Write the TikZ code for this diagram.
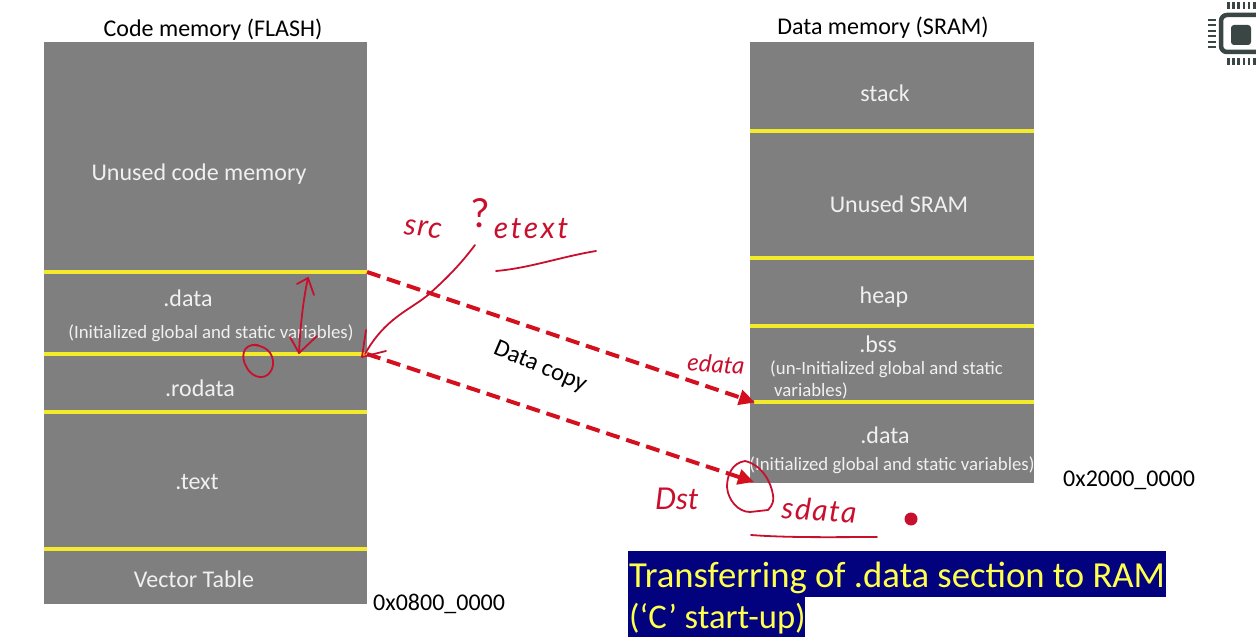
\documentclass[tikz,border=0pt]{standalone}
\usepackage{fontspec}
\setmainfont{Carlito}
\newfontfamily\handfont{Lato}
\usetikzlibrary{arrows.meta}
\definecolor{boxgray}{HTML}{7F7F7F}
\definecolor{lineyellow}{HTML}{F2EA2A}
\definecolor{inkred}{HTML}{C8102E}
\definecolor{arrowred}{HTML}{D40F1E}
\definecolor{navy}{HTML}{02027E}
\definecolor{bannertext}{HTML}{FFFF4D}
\definecolor{chipdark}{HTML}{3A4644}
\tikzset{
  memorybox/.style={fill=boxgray,draw=none,inner sep=0pt,outer sep=0pt},
  divider/.style={draw=lineyellow,line width=3.4pt},
  seclabel/.style={text=white!94!black,font=\fontsize{24}{26}\selectfont,inner sep=0pt,align=center},
  smalllabel/.style={text=white!94!black,font=\fontsize{18.8}{22}\selectfont,inner sep=0pt},
  blacklabel/.style={text=black,font=\fontsize{24}{26}\selectfont,inner sep=0pt},
  copyarrow/.style={draw=arrowred,line width=4pt,dash pattern=on 14pt off 7pt,-{Triangle[length=16pt,width=15pt,fill=arrowred]}},
  ink/.style={draw=inkred,line width=1.8pt,line cap=round,line join=round},
  handtext/.style={text=inkred,inner sep=0pt,font=\handfont\itshape\fontsize{30}{32}\selectfont},
  bannerlabel/.style={text=bannertext,font=\fontsize{36.7}{40}\selectfont,inner sep=0pt,anchor=base west},
  chip/.style={fill=chipdark,draw=none}
}
\begin{document}
\begin{tikzpicture}[x=1pt,y=-1pt]
\useasboundingbox (0,0) rectangle (1256,644);
% memory blocks
\node[memorybox,minimum width=323pt,minimum height=562pt] (flash) at (205.5,323) {};
\node[memorybox,minimum width=284pt,minimum height=441pt] (sram) at (892,262.5) {};
% dividers in FLASH
\foreach \n/\y in {fa/272,fb/354,fc/412,fd/549}{
  \coordinate (\n l) at (44,\y); \coordinate (\n r) at (367,\y);
  \draw[divider] (\n l) -- (\n r);
}
% dividers in SRAM
\foreach \n/\y/\xs in {sa/131/750,sb/258/750,sc/326/750,sd/402/754}{
  \coordinate (\n l) at (\xs,\y); \coordinate (\n r) at (1034,\y);
  \draw[divider] (\n l) -- (\n r);
}
% titles
\node[blacklabel] (flashtitle) at (213,30) {Code memory (FLASH)};
\node[blacklabel] (sramtitle) at (883,28) {Data memory (SRAM)};
% flash labels
\node[seclabel] (unusedcode) at (199,174) {Unused code memory};
\node[seclabel] (fdata) at (188,298) {.data};
\node[smalllabel] (fdatasub) at (211,333) {(Initialized global and static variables)};
\node[seclabel] (rodata) at (200,388) {.rodata};
\node[seclabel] (ftext) at (197,482) {.text};
\node[seclabel] (vector) at (194,579) {Vector Table};
% sram labels
\node[seclabel] (stack) at (885,93) {stack};
\node[seclabel] (unusedsram) at (899,204) {Unused SRAM};
\node[seclabel] (heap) at (884,297) {heap};
\node[seclabel] (bss) at (878,344) {.bss};
\node[smalllabel,anchor=west] (bssa) at (770,369) {(un-Initialized global and static};
\node[smalllabel,anchor=west] (bssb) at (774,391) {variables)};
\node[seclabel] (sdatalabel) at (885,435) {.data};
\node[smalllabel] (sdatasub) at (892,465) {(Initialized global and static variables)};
% addresses
\node[blacklabel,anchor=west] (addrflash) at (373,604) {0x0800\_0000};
\node[blacklabel,anchor=west] (addrsram) at (1063,480) {0x2000\_0000};
% data copy
\coordinate (dsttop) at (755,402.5);
\coordinate (dstbottom) at (754,482);
\draw[copyarrow] (far) -- (dsttop);
\draw[copyarrow] (fbr) -- (dstbottom);
\node[text=black,font=\fontsize{24.5}{26}\selectfont,rotate=-23,inner sep=0pt] (datacopy) at (540,367) {Data copy};
% banner
\fill[navy] (628,551) rectangle (1166,597);
\fill[navy] (628,597) rectangle (805,637);
\node[bannerlabel] (bannera) at (629,587) {Transferring of .data section to RAM};
\node[bannerlabel,font=\fontsize{34.6}{40}\selectfont] (bannerb) at (629,628) {(‘C’ start-up)};
% handwriting
\node[handtext,rotate=-6] (hsrc) at (423,229) {\addfontfeature{LetterSpace=4}src};
\node[handtext,font=\handfont\fontsize{40}{42}\selectfont] (hq) at (480,213) {?};
\node[handtext] (hetext) at (531,229) {\addfontfeature{LetterSpace=9}etext};
\node[handtext,font=\handfont\itshape\fontsize{24}{26}\selectfont,rotate=-4] (hedata) at (716,364) {edata};
\node[handtext] (hdst) at (677,499) {Dst};
\node[handtext,rotate=-3] (hsdata) at (819,510) {\addfontfeature{LetterSpace=5}sdata};
\draw[ink] (496,271) .. controls (530,268) and (560,257) .. (596,251);
\draw[ink] (751,535) .. controls (790,538) and (840,537) .. (877,537);
\draw[ink] (475,245) .. controls (460,265) and (445,280) .. (428,295) .. controls (410,310) and (385,318) .. (365,354);
\draw[ink] (366,330) -- (362,357) -- (386,351);
\draw[ink] (308,278) .. controls (303,300) and (300,330) .. (299,353);
\draw[ink] (297,284) -- (308,278) -- (314,295);
\draw[ink] (290,337) -- (299,353) -- (317,336);
\draw[ink] (258,345) .. controls (240,343) and (242,360) .. (246,366) .. controls (252,380) and (270,382) .. (273,365) .. controls (274,352) and (265,346) .. (254,345);
\draw[ink] (745,461) .. controls (732,463) and (727,475) .. (727,487) .. controls (728,500) and (738,512) .. (750,512) -- (768,510) .. controls (773,505) and (774,500) .. (773,495) .. controls (771,482) and (762,465) .. (745,461) -- cycle;
\fill[inkred] (911,519) circle[radius=6.5];
% chip icon
\draw[draw=chipdark,line width=4.5pt,rounded corners=6pt] (1258,15) -- (1221,15) -- (1221,52) -- (1258,52);
\fill[chip,rounded corners=3pt] (1231,25) rectangle (1251,45);
\foreach \x in {1227,1232.2,1237.4,1242.6,1247.8,1253}{
  \fill[chip] (\x,2) rectangle (\x+2.6,9);
  \fill[chip] (\x,58) rectangle (\x+2.6,65);
}
\foreach \y in {19,24.5,30,35.5,41,46}{
  \fill[chip] (1208,\y) rectangle (1216,\y+2);
}
\end{tikzpicture}
\end{document}
